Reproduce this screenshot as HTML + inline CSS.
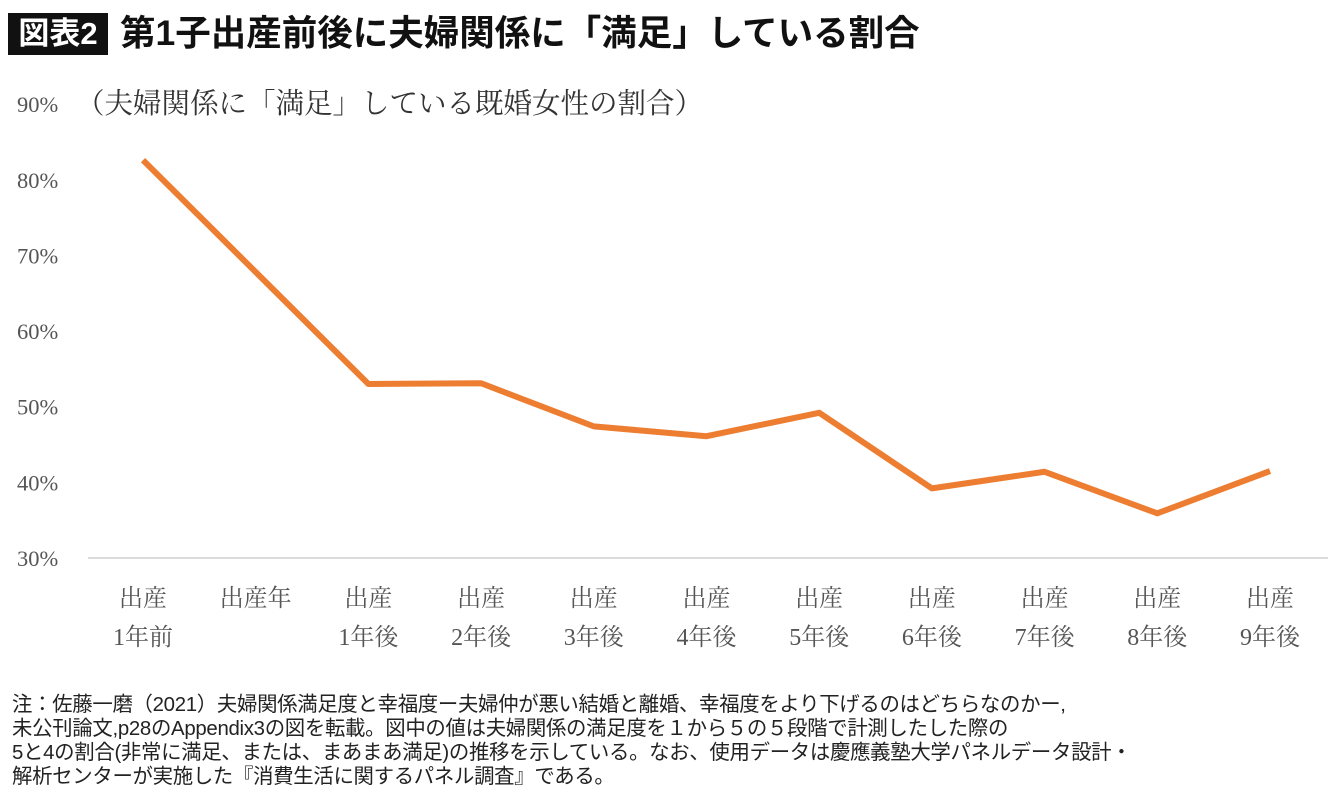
<!DOCTYPE html>
<html><head><meta charset="utf-8"><style>
body{margin:0;width:1340px;height:797px;background:#fff;overflow:hidden;font-family:"Liberation Sans","Noto Sans CJK JP",sans-serif;}
#badge{position:absolute;left:8px;top:13px;width:100px;height:42px;background:#111;color:#fff;font-weight:bold;font-size:31px;line-height:42px;text-align:center;}
#title{position:absolute;left:120px;top:11px;font-size:35.5px;font-weight:bold;color:#111;line-height:44px;white-space:nowrap;}
#note{position:absolute;left:12px;top:693px;font-size:20.4px;line-height:24px;color:#222;white-space:nowrap;letter-spacing:-0.3px;}
svg text{font-family:"Liberation Serif","Noto Serif CJK JP",serif;fill:#555;}
</style></head><body>
<div id="badge">図表2</div>
<div id="title">第1子出産前後に夫婦関係に「満足」している割合</div>
<svg id="chart" width="1340" height="797" style="position:absolute;left:0;top:0"></svg>
<div id="note">注：佐藤一磨（2021）夫婦関係満足度と幸福度ー夫婦仲が悪い結婚と離婚、幸福度をより下げるのはどちらなのかー,<br>未公刊論文,p28のAppendix3の図を転載。図中の値は夫婦関係の満足度を１から５の５段階で計測したした際の<br>5と4の割合(非常に満足、または、まあまあ満足)の推移を示している。なお、使用データは慶應義塾大学パネルデータ設計・<br>解析センターが実施した『消費生活に関するパネル調査』である。</div>
<script>
const categoriesLine1 = ["出産","出産年","出産","出産","出産","出産","出産","出産","出産","出産","出産"];
const categoriesLine2 = ["1年前","","1年後","2年後","3年後","4年後","5年後","6年後","7年後","8年後","9年後"];
const values = [82.6, 67.8, 53.0, 53.1, 47.4, 46.1, 49.2, 39.2, 41.4, 35.9, 41.5];
const yTicks = [30,40,50,60,70,80,90];
const yTickLabels = ["30%","40%","50%","60%","70%","80%","90%"];
const NS="http://www.w3.org/2000/svg";
const svg=document.getElementById('chart');
const y=v=>558-(v-30)*75.65/10;
const x=i=>143+i*112.7;
function mk(t,a){const e=document.createElementNS(NS,t);for(const k in a)e.setAttribute(k,a[k]);svg.appendChild(e);return e;}
const base=mk('line',{x1:88,x2:1328,y1:558,y2:558,stroke:'#d0d0d0','stroke-width':1.5});


yTicks.forEach((t,i)=>{const e=mk('text',{x:17,y:y(t)+8,'font-size':22.5});e.textContent=yTickLabels[i];

});
const yt=mk('text',{x:76,y:y(90)+9,'font-size':28.5,style:'fill:#333'});yt.textContent="（夫婦関係に「満足」している既婚女性の割合）";


categoriesLine1.forEach((c,i)=>{
const a=mk('text',{x:x(i),y:606,'font-size':24,'text-anchor':'middle'});a.textContent=c;


const b=mk('text',{x:x(i),y:645,'font-size':24,'text-anchor':'middle'});b.textContent=categoriesLine2[i];

});
const pl=mk('polyline',{points:values.map((v,i)=>x(i)+','+y(v)).join(' '),fill:'none',stroke:'#ed7d31','stroke-width':6,'stroke-linejoin':'round'});


</script>
</body></html>
